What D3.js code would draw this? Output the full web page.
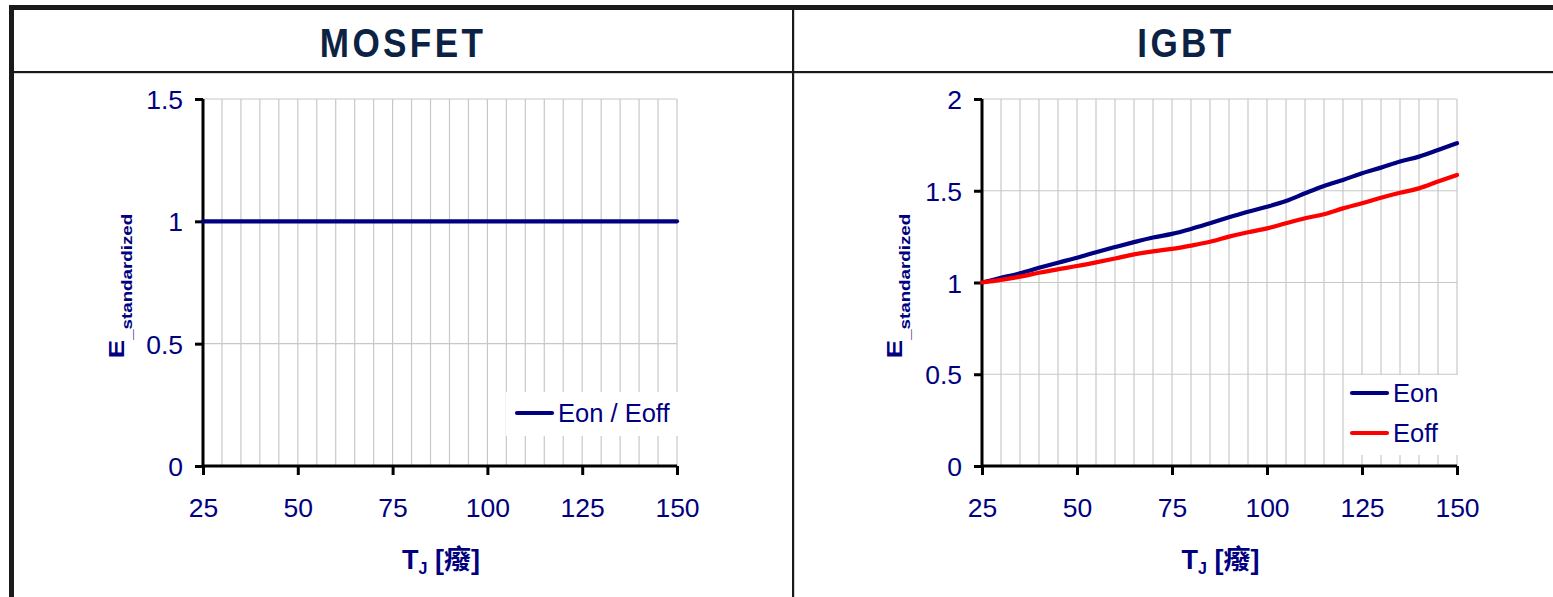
<!DOCTYPE html>
<html>
<head>
<meta charset="utf-8">
<script src="https://cdn.jsdelivr.net/npm/d3@7"></script>
<style>
  html, body { margin: 0; padding: 0; background: #ffffff; }
  svg { display: block; }
  text { font-family: "Liberation Sans", Arial, "Noto Sans CJK SC", sans-serif; }
</style>
</head>
<body>
<svg id="chart" width="1553" height="597"></svg>
<script>
// Junction temperature samples (°C)
const temps = [25, 30, 35, 40, 45, 50, 55, 60, 65, 70, 75, 80, 85, 90, 95, 100,
               105, 110, 115, 120, 125, 130, 135, 140, 145, 150];

// Normalised switching energy, MOSFET (Eon / Eoff are temperature independent)
const mosfetE = [1, 1, 1, 1, 1, 1, 1, 1, 1, 1, 1, 1, 1, 1, 1, 1,
                 1, 1, 1, 1, 1, 1, 1, 1, 1, 1];

// Normalised switching energy, IGBT
const igbtEon = [1.00, 1.025, 1.05, 1.08, 1.108, 1.135, 1.165, 1.193, 1.22, 1.245, 1.265, 1.292, 1.323,
                 1.355, 1.386, 1.413, 1.444, 1.486, 1.526, 1.559, 1.595, 1.626, 1.659, 1.686, 1.722, 1.759];
const igbtEoff = [1.00, 1.014, 1.032, 1.053, 1.072, 1.090, 1.110, 1.131, 1.153, 1.170, 1.183, 1.201, 1.222,
                  1.250, 1.274, 1.295, 1.323, 1.350, 1.372, 1.404, 1.432, 1.462, 1.489, 1.513, 1.550, 1.586];

// Axis ticks
const xTicks = [25, 50, 75, 100, 125, 150];
const mosfetYTicks = [0, 0.5, 1, 1.5];
const igbtYTicks = [0, 0.5, 1, 1.5, 2];

const NAVY = "#000080";
const RED = "#ff0000";
const TITLE = "#0c2244";
const FRAME = "#1a1a1a";

const svg = d3.select("#chart");

// ---- table frame ----
svg.append("rect").attr("x", 9).attr("y", 5).attr("width", 1553 - 9).attr("height", 5).attr("fill", FRAME);
svg.append("rect").attr("x", 9).attr("y", 5).attr("width", 5).attr("height", 597 - 5).attr("fill", FRAME);
svg.append("rect").attr("x", 14).attr("y", 71).attr("width", 1553 - 14).attr("height", 2.2).attr("fill", FRAME);
svg.append("rect").attr("x", 792).attr("y", 10).attr("width", 2.2).attr("height", 597 - 10).attr("fill", FRAME);

// ---- panel headers ----
[["MOSFET", 403], ["IGBT", 1186]].forEach(([label, cx]) => {
  svg.append("text")
    .attr("transform", `translate(${cx},57) scale(0.95,1.08)`)
    .attr("text-anchor", "middle")
    .attr("font-size", 37).attr("font-weight", "bold")
    .attr("letter-spacing", 3.5)
    .attr("fill", TITLE)
    .text(label);
});

function drawPanel(opts) {
  const x = d3.scaleLinear().domain([25, 150]).range(opts.xRange);
  const y = d3.scaleLinear().domain(opts.yDomain).range([466, 99]);
  const g = svg.append("g");

  // vertical grid every 5 °C
  g.append("g").selectAll("line").data(temps.slice(1)).join("line")
    .attr("x1", d => x(d)).attr("x2", d => x(d))
    .attr("y1", y(opts.yDomain[1])).attr("y2", y(0))
    .attr("stroke", "#c8c8c8").attr("stroke-width", 1.2);
  // horizontal grid
  g.append("g").selectAll("line").data(opts.yTicks.filter(d => d > 0)).join("line")
    .attr("x1", x(25)).attr("x2", x(150))
    .attr("y1", d => y(d)).attr("y2", d => y(d))
    .attr("stroke", "#c8c8c8").attr("stroke-width", 1.2);

  // legend box (drawn over the grid)
  const lg = opts.legend;
  g.append("rect")
    .attr("x", lg.x).attr("y", lg.y).attr("width", lg.w).attr("height", lg.h)
    .attr("fill", "#ffffff");

  // axes
  const yAxis = d3.axisLeft(y).tickValues(opts.yTicks).tickSize(8).tickFormat(d3.format("~g"));
  const xAxis = d3.axisBottom(x).tickValues(xTicks).tickSize(9);
  const ya = g.append("g").attr("transform", `translate(${x(25)},0)`).call(yAxis);
  const xa = g.append("g").attr("transform", `translate(0,${y(0)})`).call(xAxis);
  [ya, xa].forEach(a => {
    a.select(".domain").attr("stroke", "#000").attr("stroke-width", 3);
    a.selectAll(".tick line").attr("stroke", "#000").attr("stroke-width", 3);
    a.selectAll(".tick text").attr("fill", NAVY).attr("font-size", 26.5)
      .attr("font-family", "'Liberation Sans', Arial, sans-serif");
  });
  // d3 draws outer ticks on the domain path; keep it a plain line
  ya.select(".domain").attr("d", `M0,${y(opts.yDomain[1])}V${y(0)}`);
  xa.select(".domain").attr("d", `M${x(25)},0H${x(150)}`);
  ya.selectAll(".tick text").attr("x", -20).attr("dy", "0.36em");
  xa.selectAll(".tick text").attr("y", 51).attr("dy", 0);

  // series
  const line = d3.line().x((d, i) => x(temps[i])).y(d => y(d)).curve(d3.curveMonotoneX);
  opts.series.forEach(s => {
    g.append("path").datum(s.values)
      .attr("d", line)
      .attr("fill", "none")
      .attr("stroke", s.color).attr("stroke-width", 4.2)
      .attr("stroke-linejoin", "round").attr("stroke-linecap", "round");
  });

  // legend entries
  opts.series.forEach((s, i) => {
    const cy = lg.firstY + i * lg.step;
    g.append("line")
      .attr("x1", lg.lineX).attr("x2", lg.lineX + 35)
      .attr("y1", cy).attr("y2", cy)
      .attr("stroke", s.color).attr("stroke-width", 4.2).attr("stroke-linecap", "round");
    g.append("text")
      .attr("x", lg.lineX + 41).attr("y", cy).attr("dy", "0.36em")
      .attr("font-size", 25.5).attr("fill", NAVY)
      .text(s.name);
  });

  // x-axis title: T_J [癈]
  const xc = (opts.xRange[0] + opts.xRange[1]) / 2;
  const xt = g.append("text")
    .attr("x", xc + 1).attr("y", 569)
    .attr("text-anchor", "middle")
    .attr("font-weight", "bold").attr("fill", NAVY);
  xt.append("tspan").attr("font-size", 27).text("T");
  xt.append("tspan").attr("font-size", 16).attr("dy", 5).text("J");
  xt.append("tspan").attr("font-size", 27).attr("dy", -5).text(" [");
  xt.append("tspan").attr("font-size", 27).attr("font-family", "'Noto Sans CJK SC', sans-serif").text("癈");
  xt.append("tspan").attr("font-size", 27).text("]");

  // y-axis title: E_standardized
  const yt = g.append("text")
    .attr("transform", `translate(${opts.yTitleX},286) rotate(-90) scale(1.25,1)`)
    .attr("text-anchor", "middle")
    .attr("font-weight", "bold").attr("fill", NAVY);
  yt.append("tspan").attr("font-size", 22).text("E");
  yt.append("tspan").attr("font-size", 15).attr("dy", 8).text("_standardized");
}

drawPanel({
  xRange: [203, 677],
  yDomain: [0, 1.5],
  yTicks: mosfetYTicks,
  yTitleX: 124,
  legend: { x: 506, y: 392, w: 172, h: 44, lineX: 517, firstY: 413, step: 40 },
  series: [{ name: "Eon / Eoff", values: mosfetE, color: NAVY }]
});

drawPanel({
  xRange: [982, 1457],
  yDomain: [0, 2],
  yTicks: igbtYTicks,
  yTitleX: 902,
  legend: { x: 1345, y: 375, w: 113, h: 80, lineX: 1352, firstY: 393, step: 40 },
  series: [
    { name: "Eon", values: igbtEon, color: NAVY },
    { name: "Eoff", values: igbtEoff, color: RED }
  ]
});
</script>
</body>
</html>
